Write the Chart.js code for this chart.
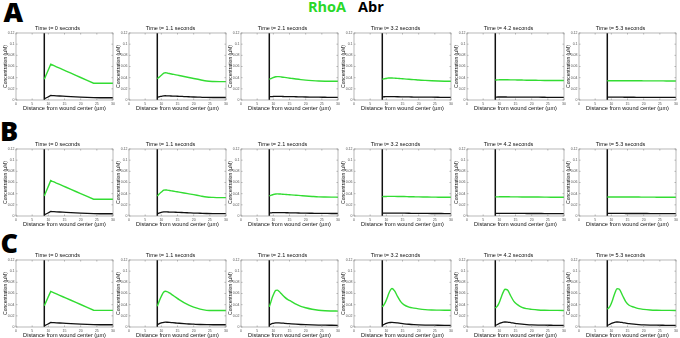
<!DOCTYPE html>
<html>
<head>
<meta charset="utf-8">
<script src="https://cdn.jsdelivr.net/npm/chart.js@4/dist/chart.umd.min.js"></script>
<style>
  html, body { margin: 0; padding: 0; background: #fff; }
  #fig { position: relative; width: 680px; height: 338px; overflow: hidden; background: #fff; }
  #fig canvas { position: absolute; }
  .letter { position: absolute; font-family: 'Open Sans', sans-serif; font-weight: 800;
            font-size: 27px; line-height: 27px; color: #000; }
  .key { position: absolute; top: 0.4px; font-family: 'Open Sans', sans-serif; font-weight: 700;
         font-size: 14.5px; line-height: 14.5px; white-space: nowrap; }
</style>
</head>
<body>
<div id="fig">
  <div class="letter" style="left:3.5px; top:-1.7px;">A</div>
  <div class="letter" style="left:0px; top:117.3px;">B</div>
  <div class="letter" style="left:0.5px; top:229px;">C</div>
  <div class="key" style="right:334px; color:#29d829;">RhoA</div>
  <div class="key" style="left:358px; color:#000;">Abr</div>
</div>
<script>
// Sample positions along the radius (µm) and the wound edge
const distance = [8.75, 9.25, 9.75, 10.25, 10.75, 11.25, 11.75, 12.5, 13.5, 14.5, 15.5, 17, 18.5, 20, 22, 24, 26, 28, 30];
const woundEdge = 8.75;
const times = ['0', '1.1', '2.1', '3.2', '4.2', '5.3'];
const xTickValues = [0, 5, 10, 15, 20, 25, 30];
const yTickValues = [0, 0.02, 0.04, 0.06, 0.08, 0.1, 0.12];

// Row A: concentrations (µM), one array per time point
const rhoaA = [
  [0.037, 0.0438, 0.0505, 0.0573, 0.064, 0.0627, 0.0614, 0.0595, 0.057, 0.0544, 0.0519, 0.048, 0.0441, 0.0403, 0.0351, 0.030, 0.030, 0.030, 0.030],
  [0.038, 0.0405, 0.043, 0.0455, 0.0482, 0.0488, 0.0484, 0.0474, 0.0462, 0.045, 0.0439, 0.0421, 0.0404, 0.0386, 0.0363, 0.034, 0.0332, 0.033, 0.033],
  [0.037, 0.0383, 0.0396, 0.0408, 0.0416, 0.0419, 0.0418, 0.0413, 0.0405, 0.0396, 0.0388, 0.0376, 0.0365, 0.0356, 0.0347, 0.034, 0.0337, 0.0336, 0.0336],
  [0.037, 0.0378, 0.0385, 0.039, 0.0394, 0.0395, 0.0394, 0.0391, 0.0387, 0.0382, 0.0378, 0.0371, 0.0365, 0.0358, 0.0351, 0.0345, 0.034, 0.0337, 0.0335],
  [0.0357, 0.0359, 0.0361, 0.0362, 0.0363, 0.0363, 0.0363, 0.0362, 0.0361, 0.036, 0.0359, 0.0357, 0.0355, 0.0354, 0.0352, 0.035, 0.0349, 0.0348, 0.0348],
  [0.0344, 0.0345, 0.0345, 0.0346, 0.0346, 0.0346, 0.0346, 0.0346, 0.0345, 0.0345, 0.0345, 0.0344, 0.0344, 0.0343, 0.0343, 0.0342, 0.0342, 0.0341, 0.0341]
];
const abrA = [
  [0.002, 0.0035, 0.005, 0.0065, 0.008, 0.0078, 0.0077, 0.0075, 0.0072, 0.0069, 0.0066, 0.0062, 0.0057, 0.0053, 0.0047, 0.0041, 0.004, 0.004, 0.004],
  [0.005, 0.0058, 0.0065, 0.0071, 0.0075, 0.0076, 0.0075, 0.0073, 0.0071, 0.0068, 0.0066, 0.0062, 0.0058, 0.0054, 0.005, 0.0046, 0.0045, 0.0045, 0.0045],
  [0.0058, 0.006, 0.0062, 0.0064, 0.0065, 0.0065, 0.0065, 0.0064, 0.0062, 0.0061, 0.006, 0.0058, 0.0056, 0.0054, 0.0052, 0.005, 0.0049, 0.0048, 0.0048],
  [0.0057, 0.0058, 0.0059, 0.006, 0.006, 0.006, 0.006, 0.0059, 0.0058, 0.0057, 0.0056, 0.0055, 0.0053, 0.0052, 0.0051, 0.005, 0.0049, 0.0048, 0.0048],
  [0.0053, 0.0053, 0.0054, 0.0054, 0.0054, 0.0054, 0.0054, 0.0053, 0.0053, 0.0052, 0.0052, 0.0051, 0.0051, 0.005, 0.005, 0.0049, 0.0048, 0.0048, 0.0048],
  [0.005, 0.005, 0.005, 0.005, 0.005, 0.005, 0.005, 0.005, 0.005, 0.0049, 0.0049, 0.0049, 0.0048, 0.0048, 0.0048, 0.0047, 0.0047, 0.0047, 0.0047]
];

// Row B
const rhoaB = [
  [0.036, 0.0429, 0.0498, 0.0566, 0.0635, 0.0622, 0.061, 0.059, 0.0565, 0.054, 0.0515, 0.0477, 0.0439, 0.0401, 0.035, 0.030, 0.030, 0.030, 0.030],
  [0.036, 0.0388, 0.0415, 0.044, 0.0462, 0.0467, 0.0464, 0.0457, 0.0447, 0.0437, 0.0427, 0.0412, 0.0397, 0.0382, 0.036, 0.034, 0.0333, 0.033, 0.033],
  [0.036, 0.037, 0.038, 0.0389, 0.0394, 0.0396, 0.0395, 0.0392, 0.0388, 0.0383, 0.0379, 0.0372, 0.0365, 0.0358, 0.035, 0.0343, 0.034, 0.0338, 0.0337],
  [0.0347, 0.0349, 0.035, 0.0351, 0.0352, 0.0352, 0.0352, 0.0351, 0.035, 0.0349, 0.0348, 0.0346, 0.0344, 0.0342, 0.034, 0.0338, 0.0337, 0.0336, 0.0336],
  [0.0342, 0.0343, 0.0343, 0.0344, 0.0344, 0.0344, 0.0344, 0.0344, 0.0343, 0.0343, 0.0342, 0.0341, 0.034, 0.034, 0.0339, 0.0338, 0.0337, 0.0337, 0.0336],
  [0.034, 0.034, 0.0341, 0.0341, 0.0341, 0.0341, 0.0341, 0.0341, 0.034, 0.034, 0.034, 0.0339, 0.0339, 0.0338, 0.0338, 0.0337, 0.0336, 0.0336, 0.0335]
];
const abrB = [
  [0.002, 0.0035, 0.005, 0.0065, 0.008, 0.0078, 0.0077, 0.0075, 0.0072, 0.0069, 0.0066, 0.0062, 0.0057, 0.0053, 0.0047, 0.0041, 0.004, 0.004, 0.004],
  [0.004, 0.0052, 0.0062, 0.0069, 0.0073, 0.0074, 0.0073, 0.0071, 0.0069, 0.0067, 0.0064, 0.0061, 0.0057, 0.0053, 0.0049, 0.0045, 0.0044, 0.0044, 0.0044],
  [0.0055, 0.0057, 0.0059, 0.006, 0.0061, 0.0061, 0.0061, 0.006, 0.0059, 0.0058, 0.0057, 0.0055, 0.0053, 0.0051, 0.0049, 0.0047, 0.0046, 0.0045, 0.0045],
  [0.005, 0.0051, 0.0052, 0.0052, 0.0052, 0.0052, 0.0052, 0.0052, 0.0051, 0.0051, 0.005, 0.0049, 0.0048, 0.0047, 0.0046, 0.0045, 0.0045, 0.0044, 0.0044],
  [0.0047, 0.0047, 0.0047, 0.0047, 0.0047, 0.0047, 0.0047, 0.0047, 0.0046, 0.0046, 0.0046, 0.0046, 0.0045, 0.0045, 0.0045, 0.0044, 0.0044, 0.0044, 0.0044],
  [0.0046, 0.0046, 0.0046, 0.0046, 0.0046, 0.0046, 0.0046, 0.0046, 0.0046, 0.0045, 0.0045, 0.0045, 0.0045, 0.0045, 0.0044, 0.0044, 0.0044, 0.0044, 0.0044]
];

// Row C
const rhoaC = [
  [0.038, 0.0445, 0.051, 0.0575, 0.0637, 0.0624, 0.0611, 0.0592, 0.0567, 0.0542, 0.0517, 0.0479, 0.0441, 0.0403, 0.0352, 0.0300, 0.0298, 0.0298, 0.0298],
  [0.0373, 0.045, 0.052, 0.058, 0.0625, 0.064, 0.0635, 0.061, 0.057, 0.053, 0.049, 0.0435, 0.039, 0.0355, 0.032, 0.0298, 0.0295, 0.0295, 0.0295],
  [0.036, 0.045, 0.054, 0.061, 0.0655, 0.066, 0.064, 0.0595, 0.0535, 0.049, 0.046, 0.041, 0.037, 0.0345, 0.0318, 0.030, 0.0291, 0.0287, 0.0285],
  [0.036, 0.0395, 0.045, 0.052, 0.060, 0.066, 0.069, 0.065, 0.0545, 0.045, 0.0395, 0.0355, 0.0338, 0.0325, 0.0312, 0.0305, 0.0302, 0.030, 0.030],
  [0.034, 0.0365, 0.041, 0.048, 0.056, 0.063, 0.0675, 0.0665, 0.056, 0.046, 0.0405, 0.0352, 0.0328, 0.0316, 0.0305, 0.030, 0.0298, 0.0297, 0.0296],
  [0.032, 0.0345, 0.039, 0.046, 0.055, 0.063, 0.0688, 0.0675, 0.056, 0.045, 0.039, 0.0355, 0.0328, 0.0315, 0.0305, 0.030, 0.0298, 0.0297, 0.0296]
];
const abrC = [
  [0.002, 0.0035, 0.005, 0.0065, 0.008, 0.0078, 0.0077, 0.0075, 0.0072, 0.0069, 0.0066, 0.0062, 0.0057, 0.0053, 0.0047, 0.0041, 0.004, 0.004, 0.004],
  [0.004, 0.0055, 0.0068, 0.0078, 0.0084, 0.0086, 0.0085, 0.0082, 0.0077, 0.0072, 0.0067, 0.006, 0.0054, 0.005, 0.0045, 0.0042, 0.004, 0.004, 0.004],
  [0.004, 0.0052, 0.0063, 0.007, 0.0074, 0.0075, 0.0074, 0.0071, 0.0066, 0.0061, 0.0056, 0.005, 0.0045, 0.0041, 0.0037, 0.0034, 0.0032, 0.0031, 0.003],
  [0.003, 0.0045, 0.006, 0.0071, 0.0078, 0.0081, 0.0082, 0.0079, 0.0072, 0.0064, 0.0057, 0.0049, 0.0043, 0.0039, 0.0035, 0.0033, 0.0031, 0.003, 0.003],
  [0.003, 0.004, 0.0055, 0.0069, 0.008, 0.0087, 0.009, 0.0088, 0.008, 0.007, 0.006, 0.005, 0.0043, 0.0038, 0.0034, 0.0032, 0.0031, 0.003, 0.003],
  [0.003, 0.004, 0.0055, 0.0069, 0.008, 0.0087, 0.009, 0.0088, 0.008, 0.007, 0.006, 0.005, 0.0043, 0.0038, 0.0034, 0.0032, 0.0031, 0.003, 0.003]
];

const rows = [
  { rhoa: rhoaA, abr: abrA },
  { rhoa: rhoaB, abr: abrB },
  { rhoa: rhoaC, abr: abrC }
];

// Panel geometry (plot-area corners on the page)
const colLeft = [16, 129, 241, 354, 467, 579];
const rowTop = [33, 149, 260];
const plotW = 97, plotH = 67;
const yAxisW = 14, xAxisH = 12, titleH = 10, padRight = 5;

const GREEN = '#33dc33';
const FONT = 'Liberation Sans';

// Box round the plot area with small inward tick marks
const framePlugin = {
  id: 'frame',
  afterDraw(chart) {
    const { ctx, chartArea: a, scales } = chart;
    ctx.save();
    ctx.strokeStyle = '#9a9a9a';
    ctx.lineWidth = 0.7;
    ctx.strokeRect(a.left, a.top, a.right - a.left, a.bottom - a.top);
    ctx.beginPath();
    xTickValues.forEach(v => {
      const px = scales.x.getPixelForValue(v);
      ctx.moveTo(px, a.bottom); ctx.lineTo(px, a.bottom - 1.5);
      ctx.moveTo(px, a.top); ctx.lineTo(px, a.top + 1.5);
    });
    yTickValues.forEach(v => {
      const py = scales.y.getPixelForValue(v);
      ctx.moveTo(a.left, py); ctx.lineTo(a.left + 1.5, py);
      ctx.moveTo(a.right, py); ctx.lineTo(a.right - 1.5, py);
    });
    ctx.stroke();
    ctx.restore();
  }
};

const fig = document.getElementById('fig');

rows.forEach((row, r) => {
  times.forEach((t, c) => {
    const cv = document.createElement('canvas');
    const w = yAxisW + plotW + padRight;
    const h = titleH + plotH + xAxisH;
    cv.width = w; cv.height = h;
    cv.style.width = w + 'px'; cv.style.height = h + 'px';
    cv.style.left = (colLeft[c] - yAxisW) + 'px';
    cv.style.top = (rowTop[r] - titleH) + 'px';
    fig.appendChild(cv);

    const sharp = (t === '0');
    const toPoints = vals => distance.map((x, i) => ({ x, y: vals[i] }));

    new Chart(cv, {
      type: 'line',
      data: {
        datasets: [
          { label: 'RhoA', data: toPoints(row.rhoa[c]), borderColor: GREEN, borderWidth: 1.4,
            pointRadius: 0, tension: sharp ? 0 : 0.4, cubicInterpolationMode: sharp ? 'default' : 'monotone' },
          { label: 'Abr', data: toPoints(row.abr[c]), borderColor: '#111', borderWidth: 1.3,
            pointRadius: 0, tension: sharp ? 0 : 0.4, cubicInterpolationMode: sharp ? 'default' : 'monotone' },
          { label: 'wound edge', data: [{ x: woundEdge, y: yTickValues[0] }, { x: woundEdge, y: yTickValues[yTickValues.length - 1] }],
            borderColor: '#111', borderWidth: 1.5, pointRadius: 0, tension: 0 }
        ]
      },
      options: {
        responsive: false,
        animation: false,
        devicePixelRatio: 1,
        layout: { padding: { top: 0, right: padRight, bottom: 0, left: 0 } },
        plugins: {
          legend: { display: false },
          tooltip: { enabled: false },
          title: {
            display: true,
            text: 'Time t= ' + t + ' seconds',
            color: '#111',
            font: { family: FONT, size: 5.5, weight: 'normal' },
            padding: { top: 2.4, bottom: 1 }
          }
        },
        scales: {
          x: {
            type: 'linear', min: 0, max: 30,
            afterBuildTicks: s => { s.ticks = xTickValues.map(v => ({ value: v })); },
            afterFit: s => { s.height = xAxisH; },
            grid: { display: false, drawTicks: false },
            border: { display: false },
            ticks: { color: '#555', font: { family: FONT, size: 3.5 }, padding: 1.5, maxRotation: 0,
                     callback: v => String(v) },
            title: { display: true, text: 'Distance from wound center (µm)', color: '#111',
                     font: { family: FONT, size: 5.6 }, padding: { top: 0, bottom: 0.5 } }
          },
          y: {
            type: 'linear', min: 0, max: 0.12,
            afterBuildTicks: s => { s.ticks = yTickValues.map(v => ({ value: v })); },
            afterFit: s => { s.width = yAxisW; },
            grid: { display: false, drawTicks: false },
            border: { display: false },
            ticks: { color: '#555', font: { family: FONT, size: 3.5 }, padding: 1.5,
                     callback: v => String(v) },
            title: { display: true, text: 'Concentration (µM)', color: '#111',
                     font: { family: FONT, size: 5 }, padding: { top: 1, bottom: 0 } }
          }
        }
      },
      plugins: [framePlugin]
    });
  });
});
</script>
</body>
</html>
